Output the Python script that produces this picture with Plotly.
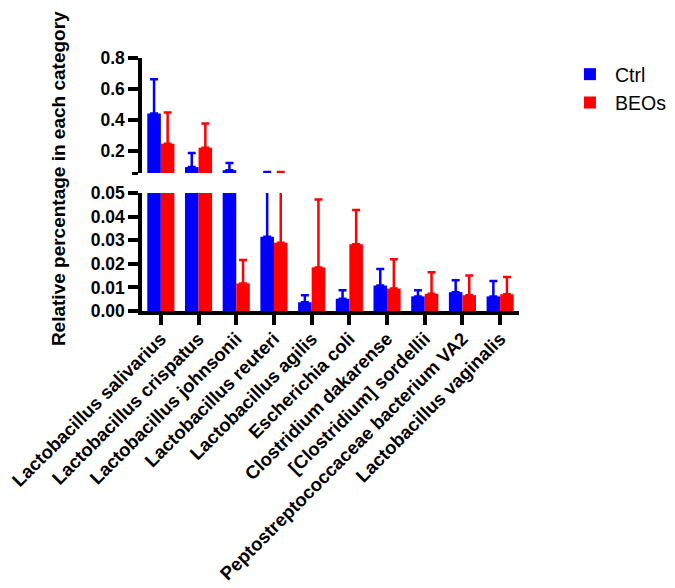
import plotly.graph_objects as go

# bacterial species (x categories)
species = [
    "Lactobacillus salivarius",
    "Lactobacillus crispatus",
    "Lactobacillus johnsonii",
    "Lactobacillus reuteri",
    "Lactobacillus agilis",
    "Escherichia coli",
    "Clostridium dakarense",
    "[Clostridium] sordellii",
    "Peptostreptococcaceae bacterium VA2",
    "Lactobacillus vaginalis",
]

# mean relative abundance and upper error (SD)
ctrl_mean = [0.442, 0.095, 0.075, 0.0315, 0.0037, 0.0052, 0.0108, 0.0062, 0.0080, 0.0062]
ctrl_sd = [0.221, 0.091, 0.046, 0.0325, 0.0030, 0.0036, 0.0070, 0.0026, 0.0050, 0.0065]
beos_mean = [0.246, 0.220, 0.0117, 0.0289, 0.0185, 0.0283, 0.0095, 0.0073, 0.0067, 0.0071]
beos_sd = [0.202, 0.157, 0.0099, 0.0351, 0.0288, 0.0145, 0.0124, 0.0091, 0.0084, 0.0073]

upper_ticks = [0.2, 0.4, 0.6, 0.8]
lower_ticks = [0.0, 0.01, 0.02, 0.03, 0.04, 0.05]
upper_range = [0.056, 0.8]
lower_range = [0.0, 0.05]

BLUE = "#0000FF"
RED = "#FF0000"
FONT = "Liberation Sans, Arial, Helvetica, sans-serif"


def bar_trace(y, sd, name, color, xaxis, yaxis, showlegend):
    return go.Bar(
        x=species, y=y, name=name,
        marker=dict(color=color, line=dict(width=0)),
        error_y=dict(type="data", symmetric=False, array=sd,
                     arrayminus=[0] * len(sd), color=color,
                     thickness=2.5, width=4),
        xaxis=xaxis, yaxis=yaxis, showlegend=showlegend,
    )


traces = [
    bar_trace(ctrl_mean, ctrl_sd, "Ctrl", BLUE, "x", "y", True),
    bar_trace(beos_mean, beos_sd, "BEOs", RED, "x", "y", True),
    bar_trace(ctrl_mean, ctrl_sd, "Ctrl", BLUE, "x2", "y2", False),
    bar_trace(beos_mean, beos_sd, "BEOs", RED, "x2", "y2", False),
]

tickfont = dict(family=FONT, size=17.5, color="black", weight="bold")
axis_style = dict(showline=True, linewidth=3.5, linecolor="black",
                  ticks="outside", ticklen=10, tickwidth=3.5, tickcolor="black",
                  showgrid=False, zeroline=False, automargin=False)

# page body has an 8px margin, so the figure is 8px smaller than the window
layout = go.Layout(
    width=667, height=580,
    margin=dict(l=134, r=156, t=50, b=277),
    paper_bgcolor="white", plot_bgcolor="white",
    barmode="group", bargap=0.28, bargroupgap=0.0,
    showlegend=True,
    legend=dict(xref="container", yref="container", x=0.835, y=0.919,
                xanchor="left", yanchor="top",
                font=dict(family=FONT, size=19.5, color="black"),
                tracegroupgap=0, itemwidth=40),
    xaxis=dict(
        domain=[0, 1], anchor="y", range=[-0.5, 9.5],
        tickangle=-45, ticklabelstandoff=-4,
        tickfont=dict(family=FONT, size=18.5, color="black", weight="bold"),
        **axis_style,
    ),
    yaxis=dict(
        domain=[0, 0.466], anchor="x", range=lower_range,
        tickvals=lower_ticks, tickformat=".2f", tickfont=tickfont,
        ticklabelstandoff=0,
        **axis_style,
    ),
    xaxis2=dict(
        domain=[0, 1], anchor="y2", matches="x", range=[-0.5, 9.5],
        showline=False, showticklabels=False, ticks="",
        showgrid=False, zeroline=False,
    ),
    yaxis2=dict(
        domain=[0.545, 1], anchor="x2", range=upper_range,
        tickvals=upper_ticks, tickformat=".1f", tickfont=tickfont,
        ticklabelstandoff=0,
        minor=dict(tickmode="array", tickvals=[upper_range[0]], ticks="outside",
                   ticklen=6, tickwidth=3, tickcolor="black"),
        **axis_style,
    ),
    annotations=[dict(
        text="Relative percentage in each category",
        xref="paper", yref="paper", x=-0.221, y=0.524,
        xanchor="center", yanchor="middle", textangle=-90,
        showarrow=False,
        font=dict(family=FONT, size=19, color="black", weight="bold"),
    )],
)

fig = go.Figure(data=traces, layout=layout)
fig.write_html("out.html")
